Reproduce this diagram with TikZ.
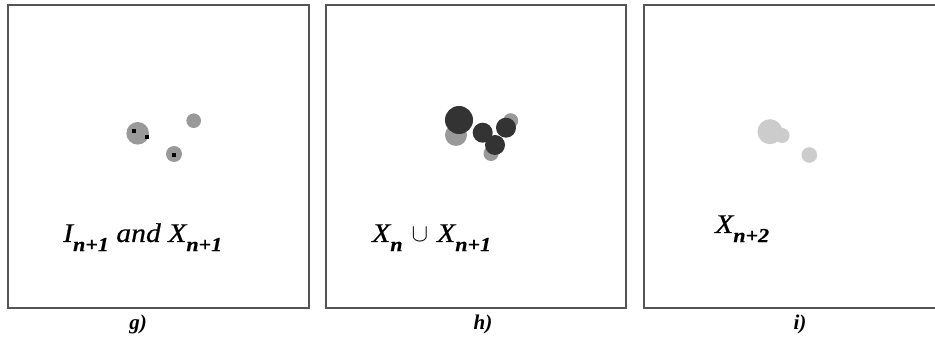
\documentclass[tikz,border=0pt]{standalone}
\usepackage{fontspec}
\setmainfont{Liberation Serif}
\newfontfamily\formfont[FakeStretch=1.1,FakeBold=0.5]{Liberation Serif}
\definecolor{midgray}{HTML}{999999}
\definecolor{darkgray}{HTML}{333333}
\definecolor{lightgray}{HTML}{CCCCCC}
\definecolor{framegray}{HTML}{555555}
\newcommand{\lowidx}[1]{\raisebox{-0.34em}{\fontsize{20}{20}\selectfont\bfseries\itshape #1}}
\begin{document}
\begin{tikzpicture}[x=1pt,y=-1pt,
  panel/.style={draw=framegray,line width=1.4pt},
  gdisk/.style={fill=midgray},
  ddisk/.style={fill=darkgray},
  ldisk/.style={fill=lightgray},
  pixel/.style={fill=black},
  caption/.style={anchor=base,font=\fontsize{21}{21}\selectfont\bfseries\itshape,inner sep=0pt},
  formula/.style={anchor=base west,font=\formfont\fontsize{27}{27}\selectfont\itshape,inner sep=0pt}]
\useasboundingbox[fill=white] (0,0) rectangle (935,339);
% frames
\draw[panel] (8,5) rectangle (309,308);
\draw[panel] (326,5) rectangle (626,308);
\draw[panel] (935,5) -- (644,5) -- (644,308) -- (935,308);
% panel g
\fill[gdisk] (137.7,133.3) circle (11.3);
\fill[gdisk] (193.7,120.7) circle (7.3);
\fill[gdisk] (174,154) circle (8);
\fill[pixel] (132,129) rectangle (136,133);
\fill[pixel] (144.5,135) rectangle (148.5,139);
\fill[pixel] (172,153) rectangle (176,157);
% panel h
\fill[gdisk] (456,135) circle (11);
\fill[gdisk] (510.7,120.7) circle (7.5);
\fill[gdisk] (491,153.5) circle (7.5);
\fill[ddisk] (459,120) circle (14);
\fill[ddisk] (482.7,132.7) circle (10);
\fill[ddisk] (506,127.7) circle (10);
\fill[ddisk] (495,145) circle (10);
% panel i
\fill[ldisk] (770,131.7) circle (12.5);
\fill[ldisk] (782,135.5) circle (7.5);
\fill[ldisk] (809.3,155) circle (7.8);
% formulas
\node[formula] (fg) at (63,242) {I\lowidx{n+1} and X\lowidx{n+1}};
\node[formula] (fh) at (372,242) {X\lowidx{n}\,\,$\cup$\,\,X\lowidx{n+1}};
\node[formula] (fi) at (715,233) {X\lowidx{n+2}};
% captions
\node[caption] (cg) at (138,329) {g)};
\node[caption] (ch) at (483,329) {h)};
\node[caption] (ci) at (800,329) {i)};
\end{tikzpicture}
\end{document}
